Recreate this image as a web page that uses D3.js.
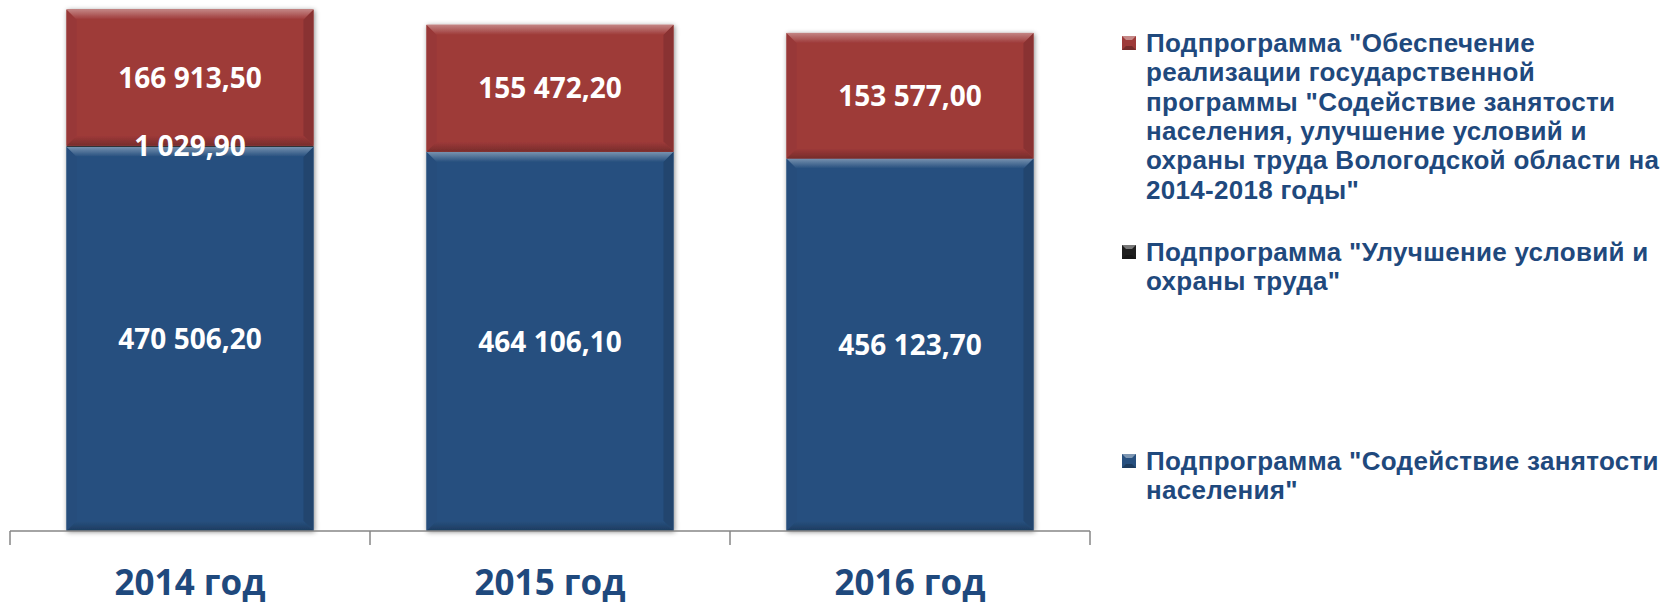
<!DOCTYPE html>
<html>
<head>
<meta charset="utf-8">
<script src="https://cdn.jsdelivr.net/npm/d3@7"></script>
<style>
  body { margin: 0; background: #fff; }
  svg { display: block; }
</style>
</head>
<body>
<div id="chart"></div>
<script>
// Data
const years = ["2014 год", "2015 год", "2016 год"];
const seriesKeys = ["employment", "laborSafety", "support"];
const employment = [470506.2, 464106.1, 456123.7];
const laborSafety = [1029.9, 0, 0];
const support = [166913.5, 155472.2, 153577.0];
const legendLines = {
    support: ["Подпрограмма \"Обеспечение", "реализации государственной", "программы \"Содействие занятости",
              "населения, улучшение условий и", "охраны труда Вологодской области на", "2014-2018 годы\""],
    laborSafety: ["Подпрограмма \"Улучшение условий и", "охраны труда\""],
    employment: ["Подпрограмма \"Содействие занятости", "населения\""]
};

const W = 1665, H = 606;
const colors = { employment: "#27507f", laborSafety: "#1e1e1e", support: "#9e3a39" };
const textBlue = "#1f497d";

const rows = years.map((y, i) => ({
    year: y, employment: employment[i], laborSafety: laborSafety[i], support: support[i]
}));

const svg = d3.select("#chart").append("svg")
    .attr("width", W)
    .attr("height", H);

const defs = svg.append("defs");
const shadow = defs.append("filter").attr("id", "shadow")
    .attr("x", "-10%").attr("y", "-10%").attr("width", "120%").attr("height", "120%");
shadow.append("feDropShadow")
    .attr("dx", 1).attr("dy", 1).attr("stdDeviation", 2.5)
    .attr("flood-color", "#000").attr("flood-opacity", 0.45);

// gradients for bevel faces
seriesKeys.forEach(k => {
    const c = d3.color(colors[k]);
    const light = d3.interpolateRgb(c, "#ffffff")(0.38);
    const top = defs.append("linearGradient").attr("id", "top-" + k)
        .attr("x1", 0).attr("y1", 0).attr("x2", 0).attr("y2", 1);
    top.append("stop").attr("offset", "0%").attr("stop-color", light);
    top.append("stop").attr("offset", "100%").attr("stop-color", c.formatHex());
    const bot = defs.append("linearGradient").attr("id", "bot-" + k)
        .attr("x1", 0).attr("y1", 0).attr("x2", 0).attr("y2", 1);
    bot.append("stop").attr("offset", "0%").attr("stop-color", c.formatHex());
    bot.append("stop").attr("offset", "100%").attr("stop-color", c.darker(0.8).formatHex());
});

// Scales
const x = d3.scaleBand()
    .domain(years)
    .range([10, 1090])
    .paddingInner(0.314)
    .paddingOuter(0.157);

const y = d3.scaleLinear()
    .domain([0, 650000])
    .range([531, 0]);

const stack = d3.stack().keys(seriesKeys);
const stacked = stack(rows);

const ru = d3.formatLocale({ decimal: ",", thousands: "\u00a0", grouping: [3], currency: ["", ""] });
const fmt = ru.format(",.2f");

// Bars
const barGroups = svg.append("g").selectAll("g")
    .data(years)
    .join("g")
    .attr("filter", "url(#shadow)");

barGroups.each(function(year, i) {
    const g = d3.select(this);
    stacked.forEach(layer => {
        const d = layer[i];
        const v = d[1] - d[0];
        if (v <= 0) return;
        const x0 = x(year), w = x.bandwidth();
        const y0 = y(d[1]), h = y(d[0]) - y(d[1]);
        const k = layer.key;
        const c = d3.color(colors[k]);
        g.append("rect")
            .attr("x", x0).attr("y", y0).attr("width", w).attr("height", Math.max(h, 1))
            .attr("fill", c.formatHex());
        const b = Math.min(10, h / 2);
        if (b < 2) return;
        const x1 = x0 + w, y1 = y0 + h;
        // left
        g.append("polygon")
            .attr("points", [[x0, y0], [x0 + b, y0 + b], [x0 + b, y1 - b], [x0, y1]].join(" "))
            .attr("fill", c.darker(0.1).formatHex());
        // right
        g.append("polygon")
            .attr("points", [[x1, y0], [x1 - b, y0 + b], [x1 - b, y1 - b], [x1, y1]].join(" "))
            .attr("fill", c.darker(0.4).formatHex());
        // top
        g.append("polygon")
            .attr("points", [[x0, y0], [x1, y0], [x1 - b, y0 + b], [x0 + b, y0 + b]].join(" "))
            .attr("fill", "url(#top-" + k + ")");
        // bottom
        g.append("polygon")
            .attr("points", [[x0, y1], [x1, y1], [x1 - b, y1 - b], [x0 + b, y1 - b]].join(" "))
            .attr("fill", "url(#bot-" + k + ")");
    });
});

// Data labels
const labels = svg.append("g")
    .attr("font-family", "'Open Sans', sans-serif")
    .attr("font-weight", "bold")
    .attr("font-size", 28)
    .attr("fill", "#fff")
    .attr("text-anchor", "middle");

stacked.forEach(layer => {
    labels.selectAll(null)
        .data(layer.filter(d => d[1] - d[0] > 0))
        .join("text")
        .attr("x", d => x(d.data.year) + x.bandwidth() / 2)
        .attr("y", d => y((d[0] + d[1]) / 2))
        .attr("dy", "0.36em")
        .text(d => fmt(d[1] - d[0]));
});

// X axis
const axisY = y(0);
const step = x.step();
const axis = svg.append("g");
axis.append("line")
    .attr("x1", x.range()[0]).attr("x2", x.range()[1])
    .attr("y1", axisY).attr("y2", axisY)
    .attr("stroke", "#868686").attr("stroke-width", 1.5);
axis.selectAll(".tick")
    .data(d3.range(years.length + 1))
    .join("line")
    .attr("x1", i => x.range()[0] + i * step)
    .attr("x2", i => x.range()[0] + i * step)
    .attr("y1", axisY).attr("y2", axisY + 14)
    .attr("stroke", "#868686").attr("stroke-width", 1.5);
axis.selectAll("text")
    .data(years)
    .join("text")
    .attr("x", d => x(d) + x.bandwidth() / 2)
    .attr("y", 595)
    .attr("text-anchor", "middle")
    .attr("font-family", "'Open Sans', sans-serif")
    .attr("font-weight", "bold")
    .attr("font-size", 35)
    .attr("fill", textBlue)
    .text(d => d);

// Legend
const legendOrder = ["support", "laborSafety", "employment"];
const legendTop = { support: 52, laborSafety: 261, employment: 470 };
const lineH = 29.3;
const legend = svg.append("g")
    .attr("font-family", "'Liberation Sans', Arial, sans-serif")
    .attr("font-weight", "bold")
    .attr("font-size", 26)
    .attr("letter-spacing", 0.3)
    .attr("fill", textBlue);

legendOrder.forEach(k => {
    const base = legendTop[k];
    const c = d3.color(colors[k]);
    const mx = 1122, my = base - 16, s = 14, b = 4;
    const m = legend.append("g");
    m.append("rect").attr("x", mx).attr("y", my).attr("width", s).attr("height", s)
        .attr("fill", c.formatHex());
    m.append("polygon")
        .attr("points", [[mx, my], [mx + s, my], [mx + s - b, my + b], [mx + b, my + b]].join(" "))
        .attr("fill", d3.interpolateRgb(c, "#fff")(0.4));
    m.append("polygon")
        .attr("points", [[mx, my + s], [mx + s, my + s], [mx + s - b, my + s - b], [mx + b, my + s - b]].join(" "))
        .attr("fill", c.darker(0.8).formatHex());
    const t = legend.append("text").attr("x", 1146).attr("y", base);
    t.selectAll("tspan")
        .data(legendLines[k])
        .join("tspan")
        .attr("x", 1146)
        .attr("y", (d, i) => base + i * lineH)
        .text(d => d);
});
</script>
</body>
</html>
